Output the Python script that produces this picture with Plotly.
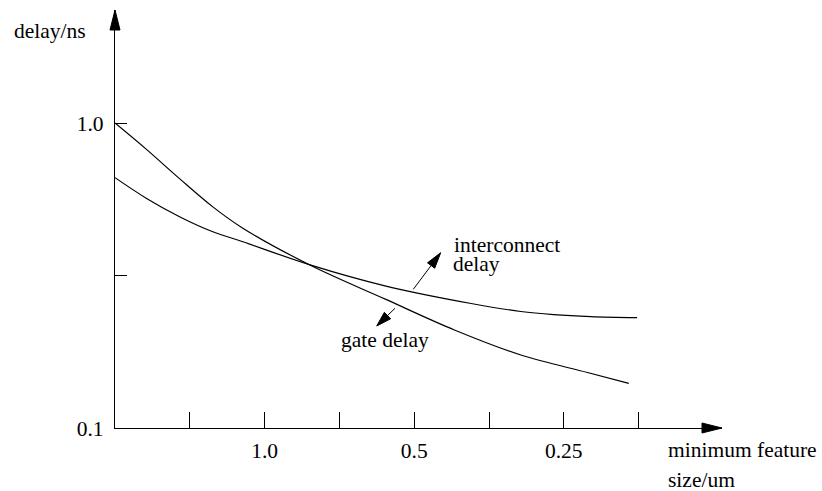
import math
import plotly.graph_objects as go

# ---------------- data ----------------
gate_size = [2.0, 1.731, 1.483, 1.271, 1.106, 0.807, 0.570, 0.415, 0.305, 0.224, 0.185]
gate_delay = [1.0, 0.821, 0.657, 0.531, 0.452, 0.341, 0.264, 0.2096, 0.1735, 0.152, 0.140]

ic_size = [2.0, 1.731, 1.483, 1.271, 1.106, 0.807, 0.570, 0.384, 0.305, 0.262, 0.2205, 0.178]
ic_delay = [0.662, 0.567, 0.493, 0.440, 0.408, 0.342, 0.292, 0.256, 0.241, 0.2355, 0.232, 0.230]

x_tickvals = [2 ** 0.5, 1.0, 2 ** -0.5, 0.5, 2 ** -1.5, 0.25, 2 ** -2.5]
x_ticktext = ["", "1.0", "", "0.5", "", "0.25", ""]
y_tickvals = [1.0, 10 ** -0.5, 0.1]
y_ticktext = ["1.0", "", "0.1"]

# ---------------- geometry ----------------
W, H = 822, 491
L, R, T, B = 115, 100, 10, 63
PW, PH = W - L - R, H - T - B
ORIGIN_X, ORIGIN_Y = L, H - B          # screen pixel of plot origin
PX_PER_HALVING = 149.6
PX_PER_DECADE = 305.0

x_left = math.log10(2.0)
x_right = x_left - PW / PX_PER_HALVING * math.log10(2)
y_bottom = -1.0
y_top = y_bottom + PH / PX_PER_DECADE

FONT = "Liberation Serif, Times New Roman, Times, serif"
FS = 21.5


def px(sx):
    return (sx - L) / PW


def py(sy):
    return (H - B - sy) / PH


fig = go.Figure()
fig.add_trace(go.Scatter(x=gate_size, y=gate_delay, mode="lines",
                         line=dict(color="black", width=1.2, shape="spline", smoothing=1.0),
                         name="gate delay", showlegend=False, hoverinfo="skip"))
fig.add_trace(go.Scatter(x=ic_size, y=ic_delay, mode="lines",
                         line=dict(color="black", width=1.2, shape="spline", smoothing=1.0),
                         name="interconnect delay", showlegend=False, hoverinfo="skip"))

shapes = []


def pix_path(points, fill=None, width=1.2):
    d = "M " + " L ".join(f"{sx - ORIGIN_X:.2f},{ORIGIN_Y - sy:.2f}" for sx, sy in points)
    if fill:
        d += " Z"
    shapes.append(dict(type="path", path=d, xref="paper", yref="paper",
                       xsizemode="pixel", ysizemode="pixel", xanchor=0, yanchor=0,
                       line=dict(color="black", width=width if not fill else 1),
                       fillcolor=fill if fill else "rgba(0,0,0,0)", layer="above"))


def arrow(tip, tail, length, width, draw_line=True):
    ux, uy = tip[0] - tail[0], tip[1] - tail[1]
    n = math.hypot(ux, uy)
    ux, uy = ux / n, uy / n
    bx, by = tip[0] - ux * length, tip[1] - uy * length
    nx, ny = -uy, ux
    if draw_line:
        pix_path([tail, (bx, by)], width=1.0)
    pix_path([tip, (bx + nx * width / 2, by + ny * width / 2),
              (bx - nx * width / 2, by - ny * width / 2)], fill="black")


# axis arrowheads
arrow((L, T), (L, T + 40), 20, 10, draw_line=False)
arrow((W - R, H - B), (W - R - 40, H - B), 20, 10, draw_line=False)
# label arrows
arrow((440.7, 252.7), (413.3, 289.3), 16, 9)
arrow((376.7, 326.0), (395.0, 308.3), 15, 9)

annotations = []


def label(text, sx, sy_center, anchor="left"):
    annotations.append(dict(text=text, x=px(sx), y=py(sy_center), xref="paper", yref="paper",
                            xanchor=anchor, yanchor="middle", showarrow=False,
                            font=dict(family=FONT, size=FS, color="black")))


label("delay/ns", 12, 31)
label("minimum feature", 666, 450)
label("size/um", 666, 480)
label("interconnect", 451.5, 245)
label("delay", 451, 263.5)
label("gate delay", 339, 340)

fig.update_layout(
    width=W, height=H,
    margin=dict(l=L, r=R, t=T, b=B),
    paper_bgcolor="white", plot_bgcolor="white",
    font=dict(family=FONT, size=FS, color="black"),
    shapes=shapes, annotations=annotations,
    xaxis=dict(type="log", range=[x_left, x_right], showgrid=False, zeroline=False,
               showline=True, linecolor="black", linewidth=1.2,
               tickmode="array", tickvals=x_tickvals, ticktext=x_ticktext,
               ticks="inside", ticklen=16, tickwidth=1, tickcolor="black",
               ticklabelstandoff=3,
               tickfont=dict(family=FONT, size=FS, color="black")),
    yaxis=dict(type="log", range=[y_bottom, y_top], showgrid=False, zeroline=False,
               showline=True, linecolor="black", linewidth=1.2,
               tickmode="array", tickvals=y_tickvals, ticktext=y_ticktext,
               ticks="inside", ticklen=12, tickwidth=1, tickcolor="black",
               ticklabelstandoff=6,
               tickfont=dict(family=FONT, size=FS, color="black")),
)

fig.write_html("out.html", config={"displayModeBar": False},
               post_script="document.body.style.margin='0px';document.body.style.overflow='hidden';")
